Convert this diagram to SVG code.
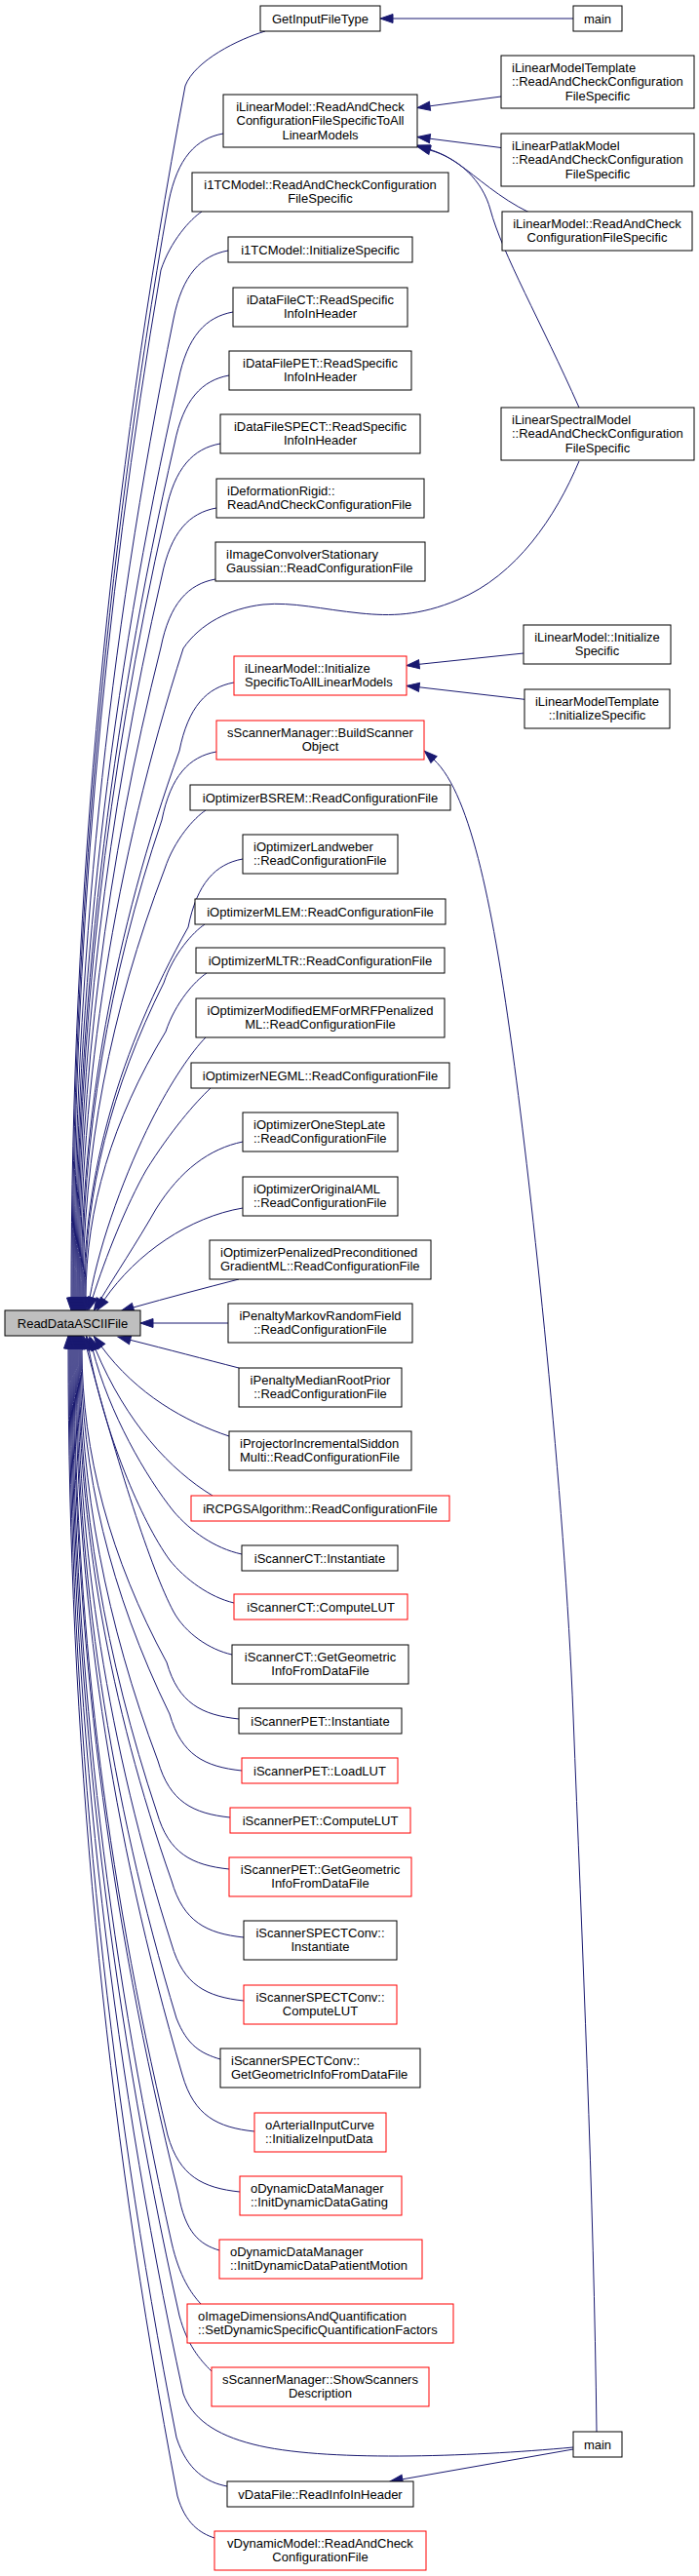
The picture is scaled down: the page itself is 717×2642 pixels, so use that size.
<svg xmlns="http://www.w3.org/2000/svg" width="717" height="2642" viewBox="0 0 717 2642">
<style>
.node rect{fill:#ffffff;stroke:#000000;stroke-width:1}
.node.red rect{stroke:#ff0000}
.node.root rect{fill:#bfbfbf}
text{font-family:"Liberation Sans",Arial,Helvetica,sans-serif;font-size:13px;fill:#000000}
.c{text-anchor:middle}
.l{text-anchor:start}
#edges path{fill:none;stroke:#191970;stroke-width:1;marker-end:url(#arr)}
</style>
<defs>
<marker id="arr" viewBox="0 0 13 9" refX="0" refY="4.5" markerWidth="13" markerHeight="9" markerUnits="userSpaceOnUse" orient="auto" overflow="visible">
<path d="M0,0 L13,4.5 L0,9 Z" fill="#191970" stroke="#191970" stroke-width="1"/>
</marker>
</defs>
<rect x="0" y="0" width="717" height="2642" fill="#ffffff"/>
<g id="edges">
<path d="M588,19 L403,19"/>
<path d="M514,99 L441,108.8"/>
<path d="M514,151.5 L441,142.2"/>
<path d="M543,218 C512,203 490,182 470,168 C458,160 452,157 440,153"/>
<path d="M594,418 C555,330 515,260 503,215 C495,185 470,162 441,154"/>
<path d="M537,670 L430,681.3"/>
<path d="M538,717.3 L430,704.8"/>
<path d="M612,2494 C609,2250 597,1990 588,1760 C579,1530 545,1220 526,1080 C507,940 484,815 445,779"/>
<path d="M588,2512 L412.8,2542.8"/>
<path d="M588,2510 C480,2520 330,2525 260,2507 C220,2497 197,2480 188,2455 C110.7,2097.7 72,1740.3 72,1383"/>
<path d="M272,32 C245,40 200,62 190,88 C112,502 73,917 73,1331"/>
<path d="M229,137 C201,142 182,162 173,207 C107,582 74,956 74,1331"/>
<path d="M207,217 C195,225 175,247 165,277 C105,628 75,980 75,1331"/>
<path d="M234,257 C206,262 187,282 178,327 C110,662 76,996 76,1331"/>
<path d="M239,320 C211,325 192,345 183,390 C112,704 77,1017 77,1331"/>
<path d="M235,385 C207,390 188,410 179,455 C112,747 78,1039 78,1331"/>
<path d="M226,455 C198,460 179,480 170,525 C109,794 79,1062 79,1331"/>
<path d="M222,521 C194,526 175,546 166,591 C109,838 80,1084 80,1331"/>
<path d="M221,594 C193,599 174,619 165,664 C109,886 81,1109 81,1331"/>
<path d="M594,473 C570,530 530,590 470,615 C430,632 400,632 370,629 C330,625 300,617 270,620 C235,624 205,640 188,665 C117,887 82,1109 82,1331"/>
<path d="M240,700 C212,705 193,725 184,770 C117,957 83,1144 83,1331"/>
<path d="M222,771 C194,776 175,796 166,841 C111,1004 84,1168 84,1331"/>
<path d="M211,831 C199,839 179,861 169,891 C113,1038 85,1184 85,1331"/>
<path d="M249,881 C221,886 202,906 193,951 C122,1078 86,1204 86,1331"/>
<path d="M210,948 C198,956 178,978 168,1008 C114,1116 87,1223 87,1331"/>
<path d="M212,998 C200,1006 180,1028 170,1058 C115,1149 88,1240 88,1331"/>
<path d="M211,1064 C197,1078 175,1110 155,1150 C130,1200 103,1270 92,1331"/>
<path d="M216,1116 C200,1131 175,1160 150,1200 C130,1235 108,1290 95,1331"/>
<path d="M249,1171 C215,1178 185,1200 160,1240 C140,1275 118,1308 103,1333"/>
<path d="M249,1239 C195,1248 140,1285 107,1333"/>
<path d="M245,1312 C210,1321 172,1331 136.6,1341"/>
<path d="M234,1357 L157,1357"/>
<path d="M245,1403 C210,1394 172,1384 133.6,1374.3"/>
<path d="M235,1473 C190,1458 140,1430 104,1381"/>
<path d="M218,1534 C175,1508 130,1460 98,1384"/>
<path d="M248,1594 C220,1588 195,1570 178,1550 C150,1515 112,1450 95,1384"/>
<path d="M240,1644 C215,1638 190,1620 174,1600 C145,1560 107,1470 91,1383"/>
<path d="M238,1697 C215,1692 190,1675 178,1653 C155,1610 120,1500 89,1383"/>
<path d="M245,1763 C207,1759 183,1747 171,1705 C113,1598 84,1490 84,1383"/>
<path d="M248,1816 C210,1812 186,1800 174,1758 C113,1633 83,1508 83,1383"/>
<path d="M236,1864 C198,1860 174,1848 162,1806 C109,1665 82,1524 82,1383"/>
<path d="M235,1917 C197,1913 173,1901 161,1859 C108,1700 81,1542 81,1383"/>
<path d="M250,1987 C212,1983 188,1971 176,1929 C112,1747 80,1565 80,1383"/>
<path d="M250,2052 C212,2048 188,2036 176,1994 C111,1790 79,1587 79,1383"/>
<path d="M226,2112 C206,2106 192,2098 181,2070 C112,1841 78,1612 78,1383"/>
<path d="M261,2186 C223,2182 199,2170 187,2128 C114,1880 77,1631 77,1383"/>
<path d="M246,2248 C208,2244 184,2232 172,2190 C108,1921 76,1652 76,1383"/>
<path d="M225,2308 C205,2302 190,2290 183,2250 C111,1961 75,1672 75,1383"/>
<path d="M206,2363 C196,2352 184,2335 176,2300 C108,1994 74,1689 74,1383"/>
<path d="M217,2432 C205,2420 192,2405 184,2375 C110,2044 73,1714 73,1383"/>
<path d="M233,2550 C212,2546 192,2534 181,2500 C108,2128 71,1755 71,1383"/>
<path d="M220,2603 C205,2598 190,2588 182,2560 C107,2168 70,1775 70,1383"/>
</g>
<g id="n_GetInputFileType" class="node"><rect x="267" y="6" width="123" height="26"/><text class="c" x="328.5" y="23.5">GetInputFileType</text></g>
<g id="n_iLinearModel_ReadAndCheckToAll" class="node"><rect x="229" y="97" width="199" height="54"/><text class="c"><tspan x="328.5" y="113.5">iLinearModel::ReadAndCheck</tspan><tspan x="328.5" y="128">ConfigurationFileSpecificToAll</tspan><tspan x="328.5" y="142.5">LinearModels</tspan></text></g>
<g id="n_i1TCModel_ReadAndCheck" class="node"><rect x="197" y="177" width="263" height="40"/><text class="c"><tspan x="328.5" y="193.5">i1TCModel::ReadAndCheckConfiguration</tspan><tspan x="328.5" y="208">FileSpecific</tspan></text></g>
<g id="n_i1TCModel_InitializeSpecific" class="node"><rect x="234" y="243" width="189" height="26"/><text class="c" x="328.5" y="260.5">i1TCModel::InitializeSpecific</text></g>
<g id="n_iDataFileCT" class="node"><rect x="239" y="295" width="179" height="40"/><text class="c"><tspan x="328.5" y="311.5">iDataFileCT::ReadSpecific</tspan><tspan x="328.5" y="326">InfoInHeader</tspan></text></g>
<g id="n_iDataFilePET" class="node"><rect x="235" y="360" width="187" height="40"/><text class="c"><tspan x="328.5" y="376.5">iDataFilePET::ReadSpecific</tspan><tspan x="328.5" y="391">InfoInHeader</tspan></text></g>
<g id="n_iDataFileSPECT" class="node"><rect x="226" y="425" width="205" height="40"/><text class="c"><tspan x="328.5" y="441.5">iDataFileSPECT::ReadSpecific</tspan><tspan x="328.5" y="456">InfoInHeader</tspan></text></g>
<g id="n_iDeformationRigid" class="node"><rect x="222" y="491" width="213" height="40"/><text class="l"><tspan x="233" y="507.5">iDeformationRigid::</tspan><tspan x="233" y="522">ReadAndCheckConfigurationFile</tspan></text></g>
<g id="n_iImageConvolverStationaryGaussian" class="node"><rect x="221" y="556" width="215" height="40"/><text class="l"><tspan x="232" y="572.5">iImageConvolverStationary</tspan><tspan x="232" y="587">Gaussian::ReadConfigurationFile</tspan></text></g>
<g id="n_iLinearModel_InitializeToAll" class="node red"><rect x="240" y="673" width="177" height="40"/><text class="l"><tspan x="251" y="689.5">iLinearModel::Initialize</tspan><tspan x="251" y="704">SpecificToAllLinearModels</tspan></text></g>
<g id="n_sScannerManager_BuildScannerObject" class="node red"><rect x="222" y="739" width="213" height="40"/><text class="c"><tspan x="328.5" y="755.5">sScannerManager::BuildScanner</tspan><tspan x="328.5" y="770">Object</tspan></text></g>
<g id="n_iOptimizerBSREM" class="node"><rect x="195" y="805" width="267" height="26"/><text class="c" x="328.5" y="822.5">iOptimizerBSREM::ReadConfigurationFile</text></g>
<g id="n_iOptimizerLandweber" class="node"><rect x="249" y="856" width="159" height="40"/><text class="l"><tspan x="260" y="872.5">iOptimizerLandweber</tspan><tspan x="260" y="887">::ReadConfigurationFile</tspan></text></g>
<g id="n_iOptimizerMLEM" class="node"><rect x="200" y="922" width="257" height="26"/><text class="c" x="328.5" y="939.5">iOptimizerMLEM::ReadConfigurationFile</text></g>
<g id="n_iOptimizerMLTR" class="node"><rect x="201" y="972" width="255" height="26"/><text class="c" x="328.5" y="989.5">iOptimizerMLTR::ReadConfigurationFile</text></g>
<g id="n_iOptimizerModifiedEM" class="node"><rect x="201" y="1024" width="255" height="40"/><text class="c"><tspan x="328.5" y="1040.5">iOptimizerModifiedEMForMRFPenalized</tspan><tspan x="328.5" y="1055">ML::ReadConfigurationFile</tspan></text></g>
<g id="n_iOptimizerNEGML" class="node"><rect x="196" y="1090" width="265" height="26"/><text class="c" x="328.5" y="1107.5">iOptimizerNEGML::ReadConfigurationFile</text></g>
<g id="n_iOptimizerOneStepLate" class="node"><rect x="249" y="1141" width="159" height="40"/><text class="l"><tspan x="260" y="1157.5">iOptimizerOneStepLate</tspan><tspan x="260" y="1172">::ReadConfigurationFile</tspan></text></g>
<g id="n_iOptimizerOriginalAML" class="node"><rect x="249" y="1207" width="159" height="40"/><text class="l"><tspan x="260" y="1223.5">iOptimizerOriginalAML</tspan><tspan x="260" y="1238">::ReadConfigurationFile</tspan></text></g>
<g id="n_iOptimizerPenalizedPreconditioned" class="node"><rect x="215" y="1272" width="227" height="40"/><text class="l"><tspan x="226" y="1288.5">iOptimizerPenalizedPreconditioned</tspan><tspan x="226" y="1303">GradientML::ReadConfigurationFile</tspan></text></g>
<g id="n_iPenaltyMarkovRandomField" class="node"><rect x="234" y="1337" width="189" height="40"/><text class="c"><tspan x="328.5" y="1353.5">iPenaltyMarkovRandomField</tspan><tspan x="328.5" y="1368">::ReadConfigurationFile</tspan></text></g>
<g id="n_ReadDataASCIIFile" class="node root"><rect x="5" y="1344" width="139" height="26"/><text class="c" x="74.5" y="1361.5">ReadDataASCIIFile</text></g>
<g id="n_iPenaltyMedianRootPrior" class="node"><rect x="245" y="1403" width="167" height="40"/><text class="c"><tspan x="328.5" y="1419.5">iPenaltyMedianRootPrior</tspan><tspan x="328.5" y="1434">::ReadConfigurationFile</tspan></text></g>
<g id="n_iProjectorIncrementalSiddonMulti" class="node"><rect x="235" y="1468" width="187" height="40"/><text class="l"><tspan x="246" y="1484.5">iProjectorIncrementalSiddon</tspan><tspan x="246" y="1499">Multi::ReadConfigurationFile</tspan></text></g>
<g id="n_iRCPGSAlgorithm" class="node red"><rect x="196" y="1534" width="265" height="26"/><text class="c" x="328.5" y="1551.5">iRCPGSAlgorithm::ReadConfigurationFile</text></g>
<g id="n_iScannerCT_Instantiate" class="node"><rect x="248" y="1585" width="160" height="26"/><text class="c" x="328" y="1602.5">iScannerCT::Instantiate</text></g>
<g id="n_iScannerCT_ComputeLUT" class="node red"><rect x="240" y="1635" width="178" height="26"/><text class="c" x="329" y="1652.5">iScannerCT::ComputeLUT</text></g>
<g id="n_iScannerCT_GetGeometric" class="node"><rect x="238" y="1687" width="181" height="40"/><text class="c"><tspan x="328.5" y="1703.5">iScannerCT::GetGeometric</tspan><tspan x="328.5" y="1718">InfoFromDataFile</tspan></text></g>
<g id="n_iScannerPET_Instantiate" class="node"><rect x="245" y="1752" width="167" height="26"/><text class="c" x="328.5" y="1769.5">iScannerPET::Instantiate</text></g>
<g id="n_iScannerPET_LoadLUT" class="node red"><rect x="248" y="1803" width="160" height="26"/><text class="c" x="328" y="1820.5">iScannerPET::LoadLUT</text></g>
<g id="n_iScannerPET_ComputeLUT" class="node red"><rect x="236" y="1854" width="185" height="26"/><text class="c" x="328.5" y="1871.5">iScannerPET::ComputeLUT</text></g>
<g id="n_iScannerPET_GetGeometric" class="node red"><rect x="235" y="1905" width="187" height="40"/><text class="c"><tspan x="328.5" y="1921.5">iScannerPET::GetGeometric</tspan><tspan x="328.5" y="1936">InfoFromDataFile</tspan></text></g>
<g id="n_iScannerSPECTConv_Instantiate" class="node"><rect x="250" y="1970" width="157" height="40"/><text class="c"><tspan x="328.5" y="1986.5">iScannerSPECTConv::</tspan><tspan x="328.5" y="2001">Instantiate</tspan></text></g>
<g id="n_iScannerSPECTConv_ComputeLUT" class="node red"><rect x="250" y="2036" width="157" height="40"/><text class="c"><tspan x="328.5" y="2052.5">iScannerSPECTConv::</tspan><tspan x="328.5" y="2067">ComputeLUT</tspan></text></g>
<g id="n_iScannerSPECTConv_GetGeometric" class="node"><rect x="226" y="2101" width="205" height="40"/><text class="l"><tspan x="237" y="2117.5">iScannerSPECTConv::</tspan><tspan x="237" y="2132">GetGeometricInfoFromDataFile</tspan></text></g>
<g id="n_oArterialInputCurve" class="node red"><rect x="261" y="2167" width="135" height="40"/><text class="l"><tspan x="272" y="2183.5">oArterialInputCurve</tspan><tspan x="272" y="2198">::InitializeInputData</tspan></text></g>
<g id="n_oDynamicDataManager_Gating" class="node red"><rect x="246" y="2232" width="166" height="40"/><text class="l"><tspan x="257" y="2248.5">oDynamicDataManager</tspan><tspan x="257" y="2263">::InitDynamicDataGating</tspan></text></g>
<g id="n_oDynamicDataManager_PatientMotion" class="node red"><rect x="225" y="2297" width="208" height="40"/><text class="l"><tspan x="236" y="2313.5">oDynamicDataManager</tspan><tspan x="236" y="2328">::InitDynamicDataPatientMotion</tspan></text></g>
<g id="n_oImageDimensionsAndQuantification" class="node red"><rect x="192" y="2363" width="273" height="40"/><text class="l"><tspan x="203" y="2379.5">oImageDimensionsAndQuantification</tspan><tspan x="203" y="2394">::SetDynamicSpecificQuantificationFactors</tspan></text></g>
<g id="n_sScannerManager_ShowScanners" class="node red"><rect x="217" y="2428" width="223" height="40"/><text class="c"><tspan x="328.5" y="2444.5">sScannerManager::ShowScanners</tspan><tspan x="328.5" y="2459">Description</tspan></text></g>
<g id="n_vDataFile_ReadInfoInHeader" class="node"><rect x="233" y="2545" width="191" height="26"/><text class="c" x="328.5" y="2562.5">vDataFile::ReadInfoInHeader</text></g>
<g id="n_vDynamicModel_ReadAndCheck" class="node red"><rect x="220" y="2596" width="217" height="40"/><text class="c"><tspan x="328.5" y="2612.5">vDynamicModel::ReadAndCheck</tspan><tspan x="328.5" y="2627">ConfigurationFile</tspan></text></g>
<g id="n_main_top" class="node"><rect x="588" y="6" width="50" height="26"/><text class="c" x="613" y="23.5">main</text></g>
<g id="n_iLinearModelTemplate_ReadAndCheck" class="node"><rect x="514" y="57" width="198" height="54"/><text class="l"><tspan x="525" y="73.5">iLinearModelTemplate</tspan><tspan x="525" y="88">::ReadAndCheckConfiguration</tspan></text><text class="c" x="613" y="102.5">FileSpecific</text></g>
<g id="n_iLinearPatlakModel_ReadAndCheck" class="node"><rect x="514" y="137" width="198" height="54"/><text class="l"><tspan x="525" y="153.5">iLinearPatlakModel</tspan><tspan x="525" y="168">::ReadAndCheckConfiguration</tspan></text><text class="c" x="613" y="182.5">FileSpecific</text></g>
<g id="n_iLinearModel_ReadAndCheckSpecific" class="node"><rect x="515" y="217" width="195" height="40"/><text class="c"><tspan x="612.5" y="233.5">iLinearModel::ReadAndCheck</tspan><tspan x="612.5" y="248">ConfigurationFileSpecific</tspan></text></g>
<g id="n_iLinearSpectralModel_ReadAndCheck" class="node"><rect x="514" y="418" width="198" height="54"/><text class="l"><tspan x="525" y="434.5">iLinearSpectralModel</tspan><tspan x="525" y="449">::ReadAndCheckConfiguration</tspan></text><text class="c" x="613" y="463.5">FileSpecific</text></g>
<g id="n_iLinearModel_InitializeSpecific" class="node"><rect x="537" y="641" width="151" height="40"/><text class="c"><tspan x="612.5" y="657.5">iLinearModel::Initialize</tspan><tspan x="612.5" y="672">Specific</tspan></text></g>
<g id="n_iLinearModelTemplate_InitializeSpecific" class="node"><rect x="538" y="707" width="149" height="40"/><text class="c"><tspan x="612.5" y="723.5">iLinearModelTemplate</tspan><tspan x="612.5" y="738">::InitializeSpecific</tspan></text></g>
<g id="n_main_bottom" class="node"><rect x="588" y="2494" width="50" height="26"/><text class="c" x="613" y="2511.5">main</text></g>
</svg>
